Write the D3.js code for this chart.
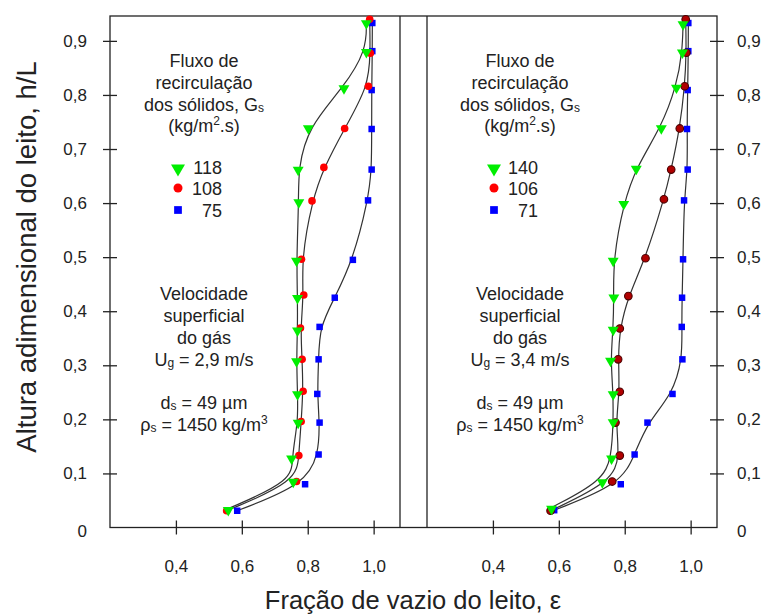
<!DOCTYPE html>
<html><head><meta charset="utf-8">
<script src="https://cdn.jsdelivr.net/npm/d3@7"></script>
<style>body{margin:0;background:#fff}svg{display:block;font-family:"Liberation Sans",Arial,sans-serif}
.tick text{font-size:17px !important;}</style>
</head><body>
<svg id="c" width="763" height="616"></svg>
<script>
// ---------- DATA ----------
const xTicks = [0.4, 0.6, 0.8, 1.0];
const yTicks = [0, 0.1, 0.2, 0.3, 0.4, 0.5, 0.6, 0.7, 0.8, 0.9];

// Left panel (Ug = 2,9 m/s)
const leftLabels = ["118", "108", "75"];
const hL118 = [0.935,0.882,0.815,0.741,0.664,0.604,0.496,0.427,0.367,0.310,0.249,0.196,0.130,0.087,0.035];
const eL118 = [0.978,0.978,0.910,0.802,0.771,0.773,0.766,0.769,0.769,0.766,0.769,0.771,0.751,0.756,0.559];
const hL108 = [0.940,0.877,0.816,0.738,0.666,0.604,0.496,0.430,0.369,0.311,0.252,0.196,0.133,0.085,0.031];
const eL108 = [0.988,0.990,0.984,0.912,0.849,0.813,0.781,0.788,0.778,0.783,0.786,0.780,0.773,0.766,0.554];
const hL75  = [0.933,0.881,0.809,0.737,0.662,0.605,0.495,0.425,0.371,0.311,0.247,0.194,0.135,0.080,0.031];
const eL75  = [0.996,0.996,0.994,0.994,0.994,0.983,0.937,0.882,0.836,0.833,0.829,0.836,0.833,0.792,0.586];

// Right panel (Ug = 3,4 m/s)
const rightLabels = ["140", "106", "71"];
const hR140 = [0.933,0.881,0.816,0.741,0.666,0.601,0.496,0.428,0.368,0.311,0.249,0.197,0.130,0.086,0.037];
const eR140 = [0.977,0.975,0.957,0.911,0.835,0.797,0.765,0.767,0.765,0.757,0.765,0.765,0.760,0.732,0.578];
const hR106 = [0.940,0.878,0.816,0.738,0.662,0.607,0.498,0.428,0.368,0.311,0.251,0.194,0.133,0.085,0.031];
const eR106 = [0.985,0.987,0.982,0.967,0.941,0.919,0.863,0.811,0.785,0.780,0.785,0.772,0.785,0.762,0.575];
const hR71  = [0.933,0.881,0.809,0.737,0.662,0.605,0.496,0.425,0.371,0.311,0.247,0.194,0.135,0.080,0.032];
const eR71  = [0.993,0.993,0.991,0.989,0.991,0.980,0.977,0.974,0.973,0.975,0.945,0.869,0.830,0.788,0.586];

// ---------- DRAW ----------
const svg = d3.select("#c");
const yTop = 16, yBot = 527.5;
const y = d3.scaleLinear().domain([0, 0.946]).range([yBot, yTop]);
const xL = d3.scaleLinear().domain([0.2, 1.08]).range([110, 400]);
const xR = d3.scaleLinear().domain([0.2, 1.08]).range([427, 717]);
const fmt = v => v === 0 ? "0" : d3.format(".1f")(v).replace(".", ",");

const ink = "#222";
// frame
svg.append("rect").attr("x", 110).attr("y", yTop).attr("width", 717 - 110).attr("height", yBot - yTop)
  .attr("fill", "none").attr("stroke", ink).attr("stroke-width", 1.3);
svg.append("line").attr("x1", 400).attr("x2", 400).attr("y1", yTop).attr("y2", yBot).attr("stroke", ink).attr("stroke-width", 1.3);
svg.append("line").attr("x1", 427).attr("x2", 427).attr("y1", yTop).attr("y2", yBot).attr("stroke", ink).attr("stroke-width", 1.3);

function styleAxis(g, inner, attr) {
  g.attr("font-size", 17).attr("font-family", "Liberation Sans, Arial, sans-serif");
  g.select(".domain").remove();
  g.selectAll(".tick line").attr("stroke", ink).attr("stroke-width", 1.3).attr(attr + "1", inner);
  g.selectAll(".tick text").attr("fill", "#222").attr("font-size", 17);
}
// y axes
const gyl = svg.append("g").attr("transform", `translate(110,0)`)
  .call(d3.axisLeft(y).tickValues(yTicks).tickFormat(fmt).tickSize(7).tickPadding(16));
styleAxis(gyl, 7, "x");
gyl.selectAll(".tick").filter(d => d === 0).select("line").remove();
const gyr = svg.append("g").attr("transform", `translate(717,0)`)
  .call(d3.axisRight(y).tickValues(yTicks).tickFormat(fmt).tickSize(7).tickPadding(13));
styleAxis(gyr, -7, "x");
gyr.selectAll(".tick").filter(d => d === 0).select("line").remove();
gyl.selectAll(".tick").filter(d => d === 0).select("text").attr("dy", "0.55em");
gyr.selectAll(".tick").filter(d => d === 0).select("text").attr("dy", "0.55em");
// x axes
[xL, xR].forEach(sc => {
  const g = svg.append("g").attr("transform", `translate(0,${yBot})`)
    .call(d3.axisBottom(sc).tickValues(xTicks).tickFormat(fmt).tickSize(7).tickPadding(25));
  styleAxis(g, -7, "y");
});

// axis titles
svg.append("text").attr("x", 413).attr("y", 609).attr("text-anchor", "middle")
  .style("font-size", "25.5px").attr("fill", "#222").text("Fração de vazio do leito, ε");
svg.append("text").attr("transform", "translate(36,257) rotate(-90)").attr("text-anchor", "middle")
  .style("font-size", "27.5px").attr("fill", "#222").text("Altura adimensional do leito, h/L");

// series
const line = sc => d3.line().x(d => sc(d.e)).y(d => y(d.h)).curve(d3.curveBasis);
const zip = (h, e) => h.map((v, i) => ({h: v, e: e[i]}));
const tri = d3.symbol().type(d3.symbolTriangle).size(52)();
const sq = d3.symbol().type(d3.symbolSquare).size(42)();

function panel(sc, series, labels, cx, ug, darkRed) {
  series.forEach(s => {
    svg.append("path").datum(s.pts).attr("d", line(sc)).attr("fill", "none")
      .attr("stroke", "#333").attr("stroke-width", 1.2);
  });
  [2, 1, 0].forEach(k => {
    const s = series[k];
    const g = svg.append("g");
    s.pts.forEach(p => {
      const X = sc(p.e), Y = y(p.h);
      if (k === 0) g.append("path").attr("d", tri).attr("transform", `translate(${X},${Y + 1.5}) rotate(180)`).attr("fill", "#00ee00");
      else if (k === 1) g.append("circle").attr("cx", X).attr("cy", Y).attr("r", 3.8).attr("fill", darkRed ? "#b00000" : "#ff0000")
          .attr("stroke", darkRed ? "#4a0000" : "none").attr("stroke-width", 1.1);
      else g.append("path").attr("d", sq).attr("transform", `translate(${X},${Y})`).attr("fill", "#0000ff");
    });
  });
  const T = (yy, parts) => {
    const t = svg.append("text").attr("x", cx).attr("y", yy).attr("text-anchor", "middle")
      .style("font-size", "18px").attr("fill", "#222");
    parts.forEach(p => {
      const ts = t.append("tspan").text(p[0]);
      if (p[1] === "sub") ts.style("font-size", "12px").attr("dy", "1");
      if (p[1] === "sup") ts.style("font-size", "12px").attr("dy", "-7");
      if (p[1] === "back") ts.attr("dy", p[2]);
    });
  };
  T(67, [["Fluxo de"]]);
  T(89, [["recirculação"]]);
  T(110.5, [["dos sólidos, G"], ["s", "sub"]]);
  T(132, [["(kg/m"], ["2", "sup"], [".s)", "back", 7]]);
  T(300, [["Velocidade"]]);
  T(322, [["superficial"]]);
  T(344, [["do gás"]]);
  T(366, [["U"], ["g", "sub"], [" = " + ug + " m/s", "back", -1]]);
  T(409, [["d"], ["s", "sub"], [" = 49 µm", "back", -1]]);
  T(431, [["ρ"], ["s", "sub"], [" = 1450 kg/m", "back", -1], ["3", "sup"]]);
  const lx = cx - 26;
  const ly = [167, 188, 210];
  svg.append("path").attr("d", d3.symbol().type(d3.symbolTriangle).size(85)()).attr("transform", `translate(${lx},${ly[0] + 1.5}) rotate(180)`).attr("fill", "#00ee00");
  svg.append("circle").attr("cx", lx).attr("cy", ly[1]).attr("r", 4.5).attr("fill", "#ff0000");
  svg.append("path").attr("d", d3.symbol().type(d3.symbolSquare).size(60)()).attr("transform", `translate(${lx},${ly[2]})`).attr("fill", "#0000ff");
  labels.forEach((l, i) => {
    svg.append("text").attr("x", lx + 44).attr("y", ly[i] + 7).attr("text-anchor", "end")
      .style("font-size", "18px").attr("fill", "#222").text(l);
  });
}

panel(xL, [{pts: zip(hL118, eL118)}, {pts: zip(hL108, eL108)}, {pts: zip(hL75, eL75)}], leftLabels, 204, "2,9", false);
panel(xR, [{pts: zip(hR140, eR140)}, {pts: zip(hR106, eR106)}, {pts: zip(hR71, eR71)}], rightLabels, 520, "3,4", true);
</script>
</body></html>
